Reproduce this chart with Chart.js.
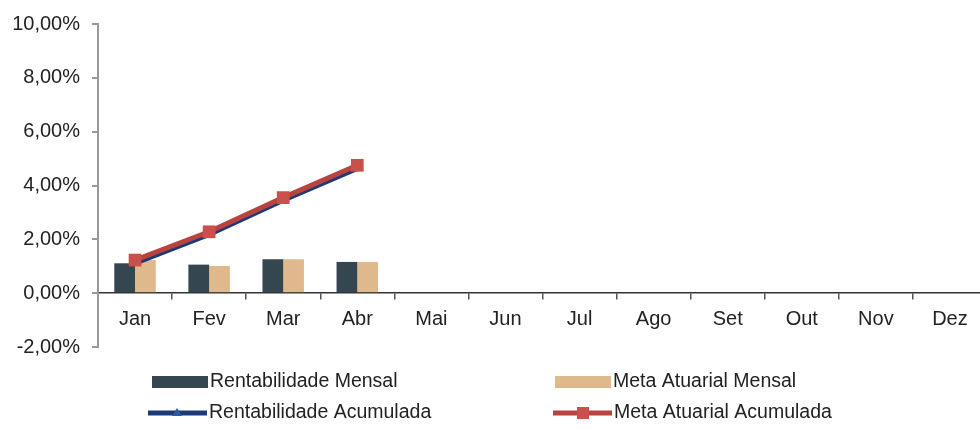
<!DOCTYPE html>
<html>
<head>
<meta charset="utf-8">
<script src="https://cdn.jsdelivr.net/npm/chart.js@4.4.1/dist/chart.umd.min.js"></script>
<style>
  html, body { margin: 0; padding: 0; background: #fff; overflow: hidden; }
  #wrap { width: 980px; height: 429px; overflow: hidden; }
  #chart { display: block; }
</style>
</head>
<body>
<div id="wrap"><canvas id="chart" width="996" height="429"></canvas></div>
<script>
// Meses
var meses = ['Jan', 'Fev', 'Mar', 'Abr', 'Mai', 'Jun', 'Jul', 'Ago', 'Set', 'Out', 'Nov', 'Dez'];

// Valores em %
var rentabilidadeMensal = [1.11, 1.06, 1.26, 1.16, null, null, null, null, null, null, null, null];
var metaAtuarialMensal = [1.23, 1.01, 1.26, 1.16, null, null, null, null, null, null, null, null];
var rentabilidadeAcumulada = [1.11, 2.18, 3.45, 4.63, null, null, null, null, null, null, null, null];
var metaAtuarialAcumulada = [1.23, 2.28, 3.55, 4.75, null, null, null, null, null, null, null, null];

// Eixo Y
var yMin = -2;
var yMax = 10;
var yStep = 2;

function formatPct(v) {
    return v.toFixed(2).replace('.', ',') + '%';
}

// Legenda desenhada em grade 2x2 abaixo do gráfico
var gridLegend = {
    id: 'gridLegend',
    afterDraw: function (chart) {
        var ctx = chart.ctx;
        var cells = [
            { x: 152, y: 382 }, { x: 555, y: 382 },
            { x: 148, y: 413 }, { x: 553, y: 413 }
        ];
        ctx.save();
        ctx.font = '19.5px "Liberation Sans", Arial, sans-serif';
        ctx.textBaseline = 'middle';
        chart.data.datasets.forEach(function (ds, i) {
            var c = cells[i];
            if (ds.type === 'bar') {
                ctx.fillStyle = ds.backgroundColor;
                ctx.fillRect(c.x, c.y - 6, 56, 12);
            } else {
                ctx.strokeStyle = ds.borderColor;
                ctx.lineWidth = 5;
                ctx.beginPath();
                ctx.moveTo(c.x, c.y);
                ctx.lineTo(c.x + 59, c.y);
                ctx.stroke();
                ctx.fillStyle = ds.pointBackgroundColor;
                if (ds.pointStyle === 'rect') {
                    ctx.fillRect(c.x + 24, c.y - 6, 12, 12);
                } else {
                    ctx.beginPath();
                    ctx.moveTo(c.x + 29, c.y - 5);
                    ctx.lineTo(c.x + 34, c.y + 3);
                    ctx.lineTo(c.x + 24, c.y + 3);
                    ctx.closePath();
                    ctx.fill();
                }
            }
            ctx.fillStyle = '#222';
            ctx.fillText(ds.label, (ds.type === 'bar' ? c.x + 58 : c.x + 61), c.y);
        });
        ctx.restore();
    }
};

var ctx = document.getElementById('chart').getContext('2d');
new Chart(ctx, {
    data: {
        labels: meses,
        datasets: [{
            type: 'bar',
            label: 'Rentabilidade Mensal',
            data: rentabilidadeMensal,
            backgroundColor: '#34464f',
            categoryPercentage: 0.56,
            barPercentage: 1.0,
            order: 3
        }, {
            type: 'bar',
            label: 'Meta Atuarial Mensal',
            data: metaAtuarialMensal,
            backgroundColor: '#dfb98b',
            categoryPercentage: 0.56,
            barPercentage: 1.0,
            order: 4
        }, {
            type: 'line',
            label: 'Rentabilidade Acumulada',
            data: rentabilidadeAcumulada,
            borderColor: '#1c3a7a',
            borderWidth: 5,
            pointStyle: 'triangle',
            pointRadius: 4,
            pointBackgroundColor: '#2a5aa0',
            pointBorderWidth: 0,
            tension: 0,
            order: 2
        }, {
            type: 'line',
            label: 'Meta Atuarial Acumulada',
            data: metaAtuarialAcumulada,
            borderColor: '#b8433f',
            borderWidth: 5,
            pointStyle: 'rect',
            pointRadius: 9,
            pointBackgroundColor: '#c9504b',
            pointBorderWidth: 0,
            tension: 0,
            order: 1
        }]
    },
    options: {
        responsive: false,
        animation: false,
        devicePixelRatio: 1,
        layout: {
            padding: { left: 0, top: 20, right: 0, bottom: 82 }
        },
        plugins: {
            legend: { display: false },
            tooltip: { enabled: false }
        },
        scales: {
            x: {
                position: { y: 0 },
                grid: {
                    offset: true,
                    drawOnChartArea: false,
                    drawTicks: true,
                    tickLength: 6,
                    color: '#555',
                    lineWidth: 1.5
                },
                border: { color: '#333', width: 1.5 },
                ticks: {
                    color: '#222',
                    padding: 8,
                    font: { family: '"Liberation Sans", Arial, sans-serif', size: 20 }
                }
            },
            y: {
                min: yMin,
                max: yMax,
                afterFit: function (scale) { scale.width = 98; },
                grid: {
                    drawOnChartArea: false,
                    drawTicks: true,
                    tickLength: 6,
                    color: '#999',
                    lineWidth: 2
                },
                border: { color: '#999', width: 2 },
                ticks: {
                    stepSize: yStep,
                    color: '#222',
                    padding: 12,
                    font: { family: '"Liberation Sans", Arial, sans-serif', size: 20 },
                    callback: function (value) { return formatPct(value); }
                }
            }
        }
    },
    plugins: [gridLegend]
});
</script>
</body>
</html>
